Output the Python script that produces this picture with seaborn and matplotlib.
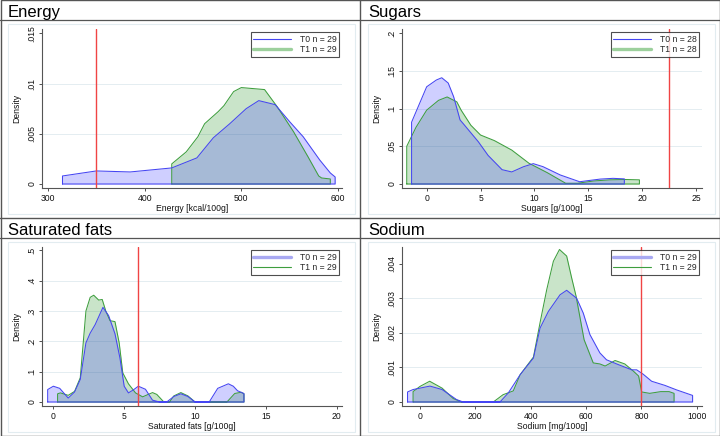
import matplotlib
matplotlib.use("Agg")
import matplotlib.pyplot as plt
import seaborn as sns
import pandas as pd
from matplotlib.lines import Line2D
from matplotlib.patches import Rectangle

sns.set_style("white")
plt.rcParams['font.family'] = ['Liberation Sans', 'DejaVu Sans']

# ---------------- data ----------------
panel_titles = ["Energy", "Sugars", "Saturated fats", "Sodium"]
x_titles = ["Energy [kcal/100g]", "Sugars [g/100g]", "Saturated fats [g/100g]", "Sodium [mg/100g]"]
t0_labels = ["T0 n = 29", "T0 n = 28", "T0 n = 29", "T0 n = 29"]
t1_labels = ["T1 n = 29", "T1 n = 28", "T1 n = 29", "T1 n = 29"]
thresholds = [350, 22.5, 6, 800]

energy_xticks = [300, 400, 500, 600]
energy_yticks = [0, 0.005, 0.01, 0.015]
energy_ylabels = ["0", ".005", ".01", ".015"]
energy_t0_x = [315, 350, 385, 428, 454, 471, 488, 505, 518, 535, 550, 564, 581, 592, 597]
energy_t0_y = [0.0008, 0.0013, 0.0012, 0.0016, 0.0026, 0.0046, 0.0060, 0.0075, 0.0083, 0.0079, 0.0062, 0.0047, 0.0024, 0.0011, 0.0007]
energy_t1_x = [428, 443, 455, 462, 476, 482, 492, 500, 512, 524, 537, 554, 569, 580, 583, 592]
energy_t1_y = [0.0020, 0.0032, 0.0047, 0.0060, 0.0072, 0.0078, 0.0092, 0.0096, 0.0095, 0.0094, 0.0077, 0.0052, 0.0027, 0.0008, 0.0006, 0.0005]

sugars_xticks = [0, 5, 10, 15, 20, 25]
sugars_yticks = [0, 0.05, 0.1, 0.15, 0.2]
sugars_ylabels = ["0", ".05", ".1", ".15", ".2"]
sugars_t0_x = [-1.4, 0.0, 0.9, 1.4, 2.0, 2.5, 3.1, 3.4, 4.8, 5.7, 7.0, 7.9, 9.0, 9.9, 10.8, 12.4, 14.2, 15.0, 16.1, 17.3, 18.35]
sugars_t0_y = [0.082, 0.129, 0.138, 0.141, 0.134, 0.116, 0.085, 0.080, 0.056, 0.038, 0.019, 0.016, 0.023, 0.027, 0.023, 0.012, 0.003, 0.0045, 0.0065, 0.0075, 0.0068]
sugars_t1_x = [-1.85, -1.0, 0.0, 1.1, 1.9, 2.8, 3.2, 4.1, 5.0, 6.3, 7.9, 9.5, 11.2, 12.9, 14.0, 15.5, 17.0, 18.4, 19.75]
sugars_t1_y = [0.050, 0.075, 0.098, 0.111, 0.1155, 0.109, 0.098, 0.078, 0.065, 0.0575, 0.045, 0.0275, 0.015, 0.001, 0.001, 0.004, 0.0055, 0.006, 0.0055]

satfat_xticks = [0, 5, 10, 15, 20]
satfat_yticks = [0, 0.1, 0.2, 0.3, 0.4, 0.5]
satfat_ylabels = ["0", ".1", ".2", ".3", ".4", ".5"]
satfat_t0_x = [-0.4, 0.0, 0.45, 1.05, 1.5, 1.9, 2.3, 2.6, 2.95, 3.5, 3.9, 4.35, 4.7, 5.0, 5.3, 5.65, 6.0, 6.5, 7.0, 7.5, 8.0, 8.5, 9.0, 9.5, 10.0, 11.0, 11.6, 12.35, 12.7, 13.0, 13.45]
satfat_t0_y = [0.041, 0.052, 0.045, 0.013, 0.033, 0.074, 0.195, 0.227, 0.255, 0.312, 0.285, 0.225, 0.145, 0.052, 0.030, 0.040, 0.052, 0.042, 0.006, 0.0, 0.0, 0.018, 0.027, 0.018, 0.0, 0.0, 0.045, 0.060, 0.052, 0.037, 0.028]
satfat_t1_x = [0.3, 0.5, 1.05, 1.5, 1.9, 2.3, 2.6, 2.85, 3.2, 3.45, 3.7, 4.0, 4.35, 4.65, 4.9, 5.3, 5.8, 6.3, 6.7, 7.0, 7.3, 7.8, 8.2, 8.5, 9.0, 9.5, 10.0, 12.25, 12.8, 13.25, 13.45]
satfat_t1_y = [0.027, 0.030, 0.022, 0.035, 0.080, 0.300, 0.345, 0.352, 0.336, 0.338, 0.300, 0.268, 0.265, 0.194, 0.096, 0.060, 0.030, 0.017, 0.025, 0.031, 0.025, 0.0, 0.0, 0.020, 0.031, 0.020, 0.0, 0.0, 0.028, 0.032, 0.027]

sodium_xticks = [0, 200, 400, 600, 800, 1000]
sodium_yticks = [0, 0.001, 0.002, 0.003, 0.004]
sodium_ylabels = ["0", ".001", ".002", ".003", ".004"]
sodium_t0_x = [-45, -25, 36, 80, 132, 156, 289, 319, 362, 410, 434, 464, 506, 530, 566, 590, 614, 650, 674, 717, 765, 783, 807, 837, 885, 927, 985]
sodium_t0_y = [0.00029, 0.00036, 0.00046, 0.00036, 0.00007, 0.0, 0.0, 0.00026, 0.00079, 0.00127, 0.00214, 0.00262, 0.0031, 0.00323, 0.0030, 0.00257, 0.00195, 0.00142, 0.00122, 0.00108, 0.00093, 0.00093, 0.00080, 0.00060, 0.00048, 0.00035, 0.00019]
sodium_t1_x = [-25, 0, 35, 80, 120, 150, 265, 300, 337, 362, 410, 434, 458, 482, 504, 530, 548, 564, 593, 626, 650, 669, 705, 740, 770, 790, 801, 830, 870, 900, 918]
sodium_t1_y = [0.00030, 0.00045, 0.00060, 0.00040, 0.00010, 0.0, 0.0, 0.00021, 0.00032, 0.00079, 0.00130, 0.00230, 0.00325, 0.00407, 0.00441, 0.00422, 0.00359, 0.00306, 0.00180, 0.00113, 0.00110, 0.00104, 0.00120, 0.00110, 0.00090, 0.00075, 0.00029, 0.00025, 0.00030, 0.00030, 0.00025]

# ---------------- layout ----------------
W, H = 720, 436
fig = plt.figure(figsize=(W / 100, H / 100), dpi=100)

def fbox(x0, y0, x1, y1):
    """pixel box (top-left origin) -> figure fraction [left, bottom, width, height]"""
    return [x0 / W, 1 - y1 / H, (x1 - x0) / W, (y1 - y0) / H]

panels = [
    dict(title=panel_titles[0], xt=x_titles[0], xticks=energy_xticks, yticks=energy_yticks, ylabels=energy_ylabels,
         t0=(energy_t0_x, energy_t0_y), t1=(energy_t1_x, energy_t1_y), thr=thresholds[0],
         xlim=(293.8, 604.1), ylim=(-0.000398, 0.01543), off=(0, 0), thick="t1",
         l0=t0_labels[0], l1=t1_labels[0]),
    dict(title=panel_titles[1], xt=x_titles[1], xticks=sugars_xticks, yticks=sugars_yticks, ylabels=sugars_ylabels,
         t0=(sugars_t0_x, sugars_t0_y), t1=(sugars_t1_x, sugars_t1_y), thr=thresholds[1],
         xlim=(-2.29, 25.56), ylim=(-0.00531, 0.2057), off=(360, 0), thick="t1",
         l0=t0_labels[1], l1=t1_labels[1]),
    dict(title=panel_titles[2], xt=x_titles[2], xticks=satfat_xticks, yticks=satfat_yticks, ylabels=satfat_ylabels,
         t0=(satfat_t0_x, satfat_t0_y), t1=(satfat_t1_x, satfat_t1_y), thr=thresholds[2],
         xlim=(-0.80, 20.37), ylim=(-0.0132, 0.511), off=(0, 218), thick="t0",
         l0=t0_labels[2], l1=t1_labels[2]),
    dict(title=panel_titles[3], xt=x_titles[3], xticks=sodium_xticks, yticks=sodium_yticks, ylabels=sodium_ylabels,
         t0=(sodium_t0_x, sodium_t0_y), t1=(sodium_t1_x, sodium_t1_y), thr=thresholds[3],
         xlim=(-65, 1019), ylim=(-0.000116, 0.004482), off=(360, 218), thick="t0",
         l0=t0_labels[3], l1=t1_labels[3]),
]

BLUE_LINE = "#4545F2"
BLUE_FILL = "#4040FF"
GREEN_LINE = "#3E9E3E"
GREEN_FILL = "#008000"
FS = 6.2

def draw_density(ax, xs, ys, line_color, fill_color, alpha):
    ax.fill_between(xs, ys, 0, color=fill_color, alpha=alpha, lw=0, zorder=2)
    px = [xs[0]] + list(xs) + [xs[-1], xs[0]]
    py = [0] + list(ys) + [0, 0]
    df = pd.DataFrame({"x": px, "y": py})
    sns.lineplot(data=df, x="x", y="y", sort=False, estimator=None, color=line_color,
                 lw=0.75, ax=ax, legend=False, zorder=3)

for p in panels:
    ox, oy = p["off"]
    ax = fig.add_axes(fbox(ox + 42, oy + 29, ox + 342, oy + 188))
    ax.set_facecolor("none")
    for yv in p["yticks"][1:-1]:
        ax.axhline(yv, color="#E4EDF1", lw=0.7, zorder=1)
    draw_density(ax, p["t1"][0], p["t1"][1], GREEN_LINE, GREEN_FILL, 0.21)
    draw_density(ax, p["t0"][0], p["t0"][1], BLUE_LINE, BLUE_FILL, 0.25)
    ax.axvline(p["thr"], color="#F04444", lw=1.0, zorder=4)
    ax.set_xlim(*p["xlim"])
    ax.set_ylim(*p["ylim"])
    ax.set_xticks(p["xticks"])
    ax.set_xticklabels([str(v) for v in p["xticks"]], fontsize=FS)
    ax.set_yticks(p["yticks"])
    ax.set_yticklabels(p["ylabels"], fontsize=FS, rotation=90, va="center")
    ax.tick_params(axis="both", direction="out", length=2.4, width=0.6, color="#333333",
                   pad=1.8, left=True, bottom=True, labelcolor="#111111")
    for s in ["top", "right"]:
        ax.spines[s].set_visible(False)
    for s in ["left", "bottom"]:
        ax.spines[s].set_color("#555555")
        ax.spines[s].set_linewidth(0.8)
    ax.set_xlabel(p["xt"], fontsize=FS, labelpad=1.0, color="#111111")
    ax.set_ylabel("Density", fontsize=FS, labelpad=4.5, color="#111111")
    ax.grid(False)

    # legend
    lw0 = 2.4 if p["thick"] == "t0" else 0.8
    lw1 = 2.4 if p["thick"] == "t1" else 0.8
    c0 = "#A9A9F2" if p["thick"] == "t0" else BLUE_LINE
    c1 = "#9CD09C" if p["thick"] == "t1" else GREEN_LINE
    handles = [Line2D([], [], color=c0, lw=lw0), Line2D([], [], color=c1, lw=lw1)]
    leg = fig.legend(handles, [p["l0"], p["l1"]], loc="upper right",
                     bbox_to_anchor=((ox + 339) / W, 1 - (oy + 32) / H),
                     bbox_transform=fig.transFigure, fontsize=FS, frameon=True,
                     fancybox=False, handlelength=4.4, handletextpad=1.0,
                     borderpad=0.3, labelspacing=0.2, borderaxespad=0)
    leg.get_frame().set_edgecolor("#222222")
    leg.get_frame().set_linewidth(0.8)

    # panel title and frames
    fig.text((ox + 8) / W, 1 - (oy + 17) / H, p["title"], fontsize=12, color="black",
             ha="left", va="baseline")
    fig.add_artist(Line2D([ox / W, (ox + 360) / W], [1 - (oy + 20.5) / H] * 2,
                          color="#555555", lw=0.9, transform=fig.transFigure))
    fig.add_artist(Rectangle(((ox + 8) / W, 1 - (oy + 214) / H), 347 / W, 190 / H,
                             fill=False, edgecolor="#E2ECF0", lw=0.8, transform=fig.transFigure))

# outer borders and dividers
fig.add_artist(Rectangle((0.5 / W, 0.5 / H), (W - 1) / W, (H - 1) / H, fill=False,
                         edgecolor="#555555", lw=1.0, transform=fig.transFigure))
fig.add_artist(Line2D([360 / W] * 2, [0, 1], color="#555555", lw=1.0, transform=fig.transFigure))
fig.add_artist(Line2D([0, 1], [1 - 218 / H] * 2, color="#555555", lw=1.0, transform=fig.transFigure))

fig.savefig("out.png", dpi=100)
